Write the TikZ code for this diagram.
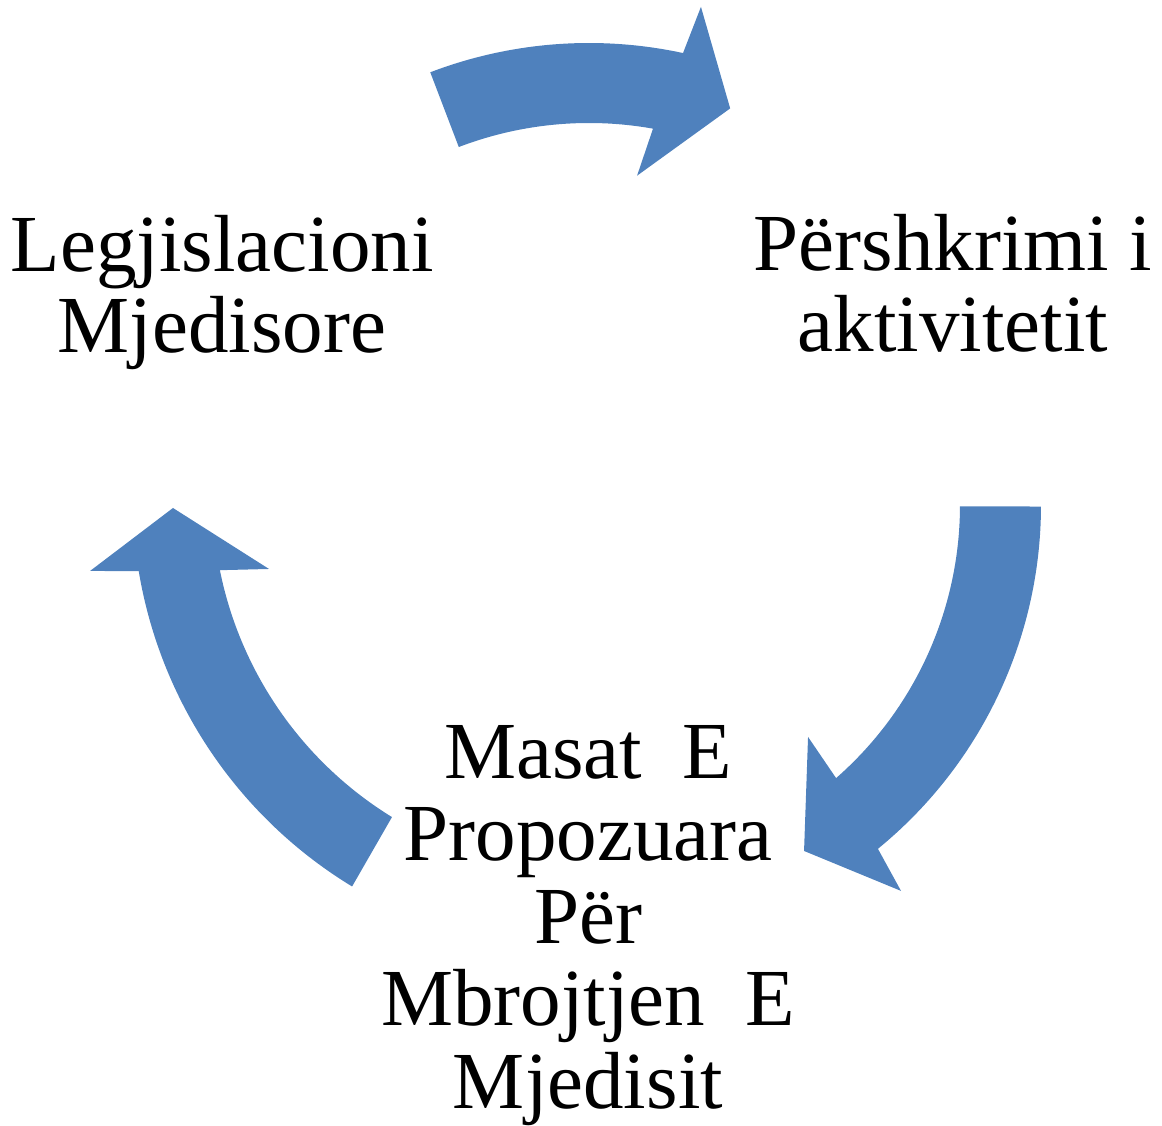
\documentclass[tikz,border=0pt]{standalone}
\usepackage{fontspec}
\setmainfont{Liberation Serif}
\definecolor{arrowblue}{RGB}{79,129,189}
\begin{document}
\begin{tikzpicture}[x=0.5pt,y=0.5pt,
  cyclearrow/.style={fill=arrowblue, draw=none},
  lbl/.style={inner sep=0pt, anchor=base},
  sidefont/.style={font=\fontsize{40.5}{40.5}\selectfont},
  bottomfont/.style={font=\fontsize{40.5}{41.25}\selectfont}]
\useasboundingbox (0,0) rectangle (1162,1125);

% top arrow
\begin{scope}[shift={(589,637)}]
\fill[cyclearrow] (110.9:445) arc[start angle=110.9, end angle=77.8, radius=445]
  -- (76.9:494) -- (69.6:405) -- (81.25:316) -- (79.9:365)
  arc[start angle=79.9, end angle=110.9, radius=365] -- cycle;
\end{scope}

% right arrow
\begin{scope}[shift={(597,620)}]
\fill[cyclearrow] (-0.2:444) arc[start angle=-0.2, end angle=-50.75, radius=444]
  -- (-51.77:491.3) -- (-59.1:403.2) -- (-47.7:313.6) -- (-48.8:363)
  arc[start angle=-48.8, end angle=-0.2, radius=363] -- cycle;
\end{scope}

% left arrow
\begin{scope}[shift={(589.5,629)}]
\fill[cyclearrow] (238.7:457) arc[start angle=238.7, end angle=189.45, radius=457]
  -- (188.54:505.1) -- (181.65:416.7) -- (192.83:328.7) -- (191.35:377)
  arc[start angle=191.35, end angle=238.4, radius=377] -- cycle;
\end{scope}

\node[lbl, sidefont] (legj) at (222,853.3)
  {\begin{tabular}[t]{@{}c@{}}Legjislacioni\\Mjedisore\end{tabular}};
\node[lbl, sidefont] (persh) at (953,854)
  {\begin{tabular}[t]{@{}c@{}}Përshkrimi i\\aktivitetit\end{tabular}};
\node[lbl, bottomfont] (masat) at (588,346.7)
  {\begin{tabular}[t]{@{}c@{}}Masat~~E\\Propozuara\\Për\\Mbrojtjen~~E\\Mjedisit\end{tabular}};
\end{tikzpicture}
\end{document}
